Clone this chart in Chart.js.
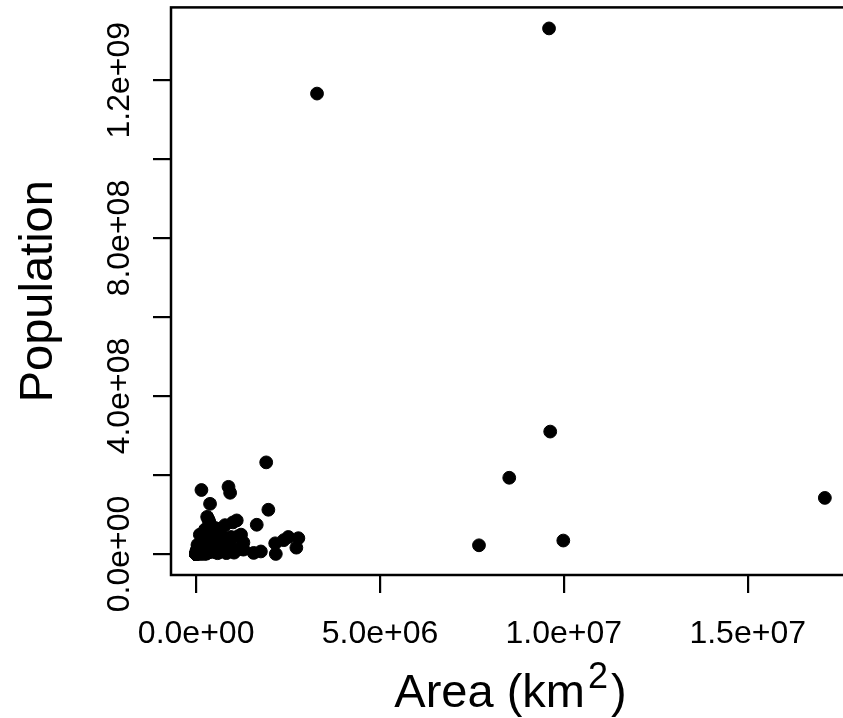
<!DOCTYPE html>
<html>
<head>
<meta charset="utf-8">
<script src="https://cdn.jsdelivr.net/npm/chart.js@4.4.1/dist/chart.umd.min.js"></script>
<style>
  html, body { margin: 0; padding: 0; background: #fff; overflow: hidden; }
  #wrap { width: 843px; height: 718px; overflow: hidden; position: relative; }
  #chart { position: absolute; left: 0; top: 0; }
</style>
</head>
<body>
<div id="wrap"><canvas id="chart" width="860" height="718"></canvas></div>
<script>
// country area (km^2) and population, one entry per country
const areaKm2 = [
  17098000, 9985000, 9629000, 9597000, 8515000, 7692000, 3287000, 2780000, 2725000, 2506000,
  2382000, 2166000, 2150000, 1964000, 1905000, 1760000, 1648000, 1564000, 1285000, 1284000,
  1267000, 1247000, 1240000, 1221000, 1139000, 1104000, 1099000, 1031000, 1001000, 947000,
  924000, 912000, 824000, 802000, 880000, 784000, 757000, 753000, 677000, 652000,
  638000, 623000, 604000, 587000, 582000, 580000, 644000, 528000, 513000, 506000,
  488000, 475000, 463000, 450000, 447000, 447000, 438000, 407000, 391000, 378000,
  357000, 342000, 338000, 331000, 330000, 324000, 322000, 313000, 310000, 301000,
  300000, 284000, 274000, 268000, 268000, 266000, 246000, 243000, 241000, 239000,
  238000, 237000, 215000, 208000, 200000, 197000, 185000, 181000, 176000, 164000,
  164000, 144000, 147000, 143000, 132000, 130000, 121000, 118000, 118000, 115000,
  112000, 111000, 111000, 110000, 109000, 103000, 100000, 93000, 92000, 89000,
  87000, 84000, 84000, 79000, 77000, 75000, 72000, 70000, 70000, 66000,
  65000, 65000, 57000, 57000, 51000, 51000, 49000, 48000, 45000, 43000,
  42000, 41000, 38000, 36000, 36000, 34000, 31000, 30000, 30000, 28000,
  29000, 28000, 28000, 28000, 26000, 26000, 23000, 23000, 21000, 22000,
  20000, 18000, 18000, 17000, 15000, 14000, 14000, 12000, 12000, 11000,
  11000, 10000, 9000, 9000, 6000, 5000, 4000, 3000, 2600, 2000,
  2200, 1000, 700, 760, 700, 750, 750, 620, 470, 460,
  460, 440, 430, 390, 340, 320, 300, 260, 180, 160,
  61, 26, 21, 2, 0.44
];

const population = [
  142e6, 34e6, 310e6, 1331e6, 193e6, 22e6, 1166e6, 40e6, 16e6, 43e6,
  35e6, 0.06e6, 27e6, 112e6, 232e6, 6.4e6, 74e6, 2.7e6, 29e6, 11e6,
  15e6, 19e6, 13e6, 49e6, 45e6, 85e6, 10e6, 3.3e6, 80e6, 43e6,
  155e6, 28e6, 2.2e6, 22e6, 170e6, 73e6, 17e6, 13e6, 50e6, 29e6,
  9.4e6, 4.5e6, 46e6, 20e6, 2e6, 40e6, 64e6, 23e6, 66e6, 46e6,
  5e6, 19e6, 6.7e6, 9.3e6, 28e6, 32e6, 29e6, 6.4e6, 12e6, 127e6,
  82e6, 4e6, 5.3e6, 88e6, 28e6, 4.8e6, 21e6, 38e6, 3e6, 60e6,
  94e6, 14e6, 16e6, 4.3e6, 1.5e6, 0.4e6, 10e6, 62e6, 33e6, 24e6,
  22e6, 6.3e6, 0.75e6, 9.6e6, 5.4e6, 13e6, 21e6, 15e6, 3.4e6, 0.5e6,
  10.5e6, 162e6, 29e6, 7.3e6, 11e6, 5.8e6, 24e6, 15e6, 5.8e6, 8.8e6,
  7.6e6, 3.7e6, 7.5e6, 11.2e6, 14e6, 0.3e6, 49e6, 10e6, 10.6e6, 6.3e6,
  8.9e6, 8.4e6, 5e6, 10.5e6, 7.3e6, 3.5e6, 5.8e6, 4.5e6, 4.6e6, 20e6,
  3.3e6, 2.2e6, 6.6e6, 4.4e6, 3.8e6, 4.6e6, 5.4e6, 10e6, 1.3e6, 5.5e6,
  16.6e6, 7.7e6, 0.7e6, 1.6e6, 23e6, 3.6e6, 10.8e6, 2.1e6, 3e6, 0.5e6,
  3.2e6, 0.7e6, 8.3e6, 9.8e6, 10e6, 2e6, 0.86e6, 0.3e6, 6.1e6, 7.4e6,
  2e6, 0.85e6, 2.8e6, 1.2e6, 1.1e6, 0.34e6, 0.63e6, 0.24e6, 1.7e6, 1.7e6,
  2.7e6, 4.2e6, 1.1e6, 4e6, 0.4e6, 1.3e6, 0.5e6, 0.18e6, 0.5e6, 1.3e6,
  0.7e6, 0.16e6, 5e6, 1.2e6, 0.1e6, 0.1e6, 0.07e6, 0.17e6, 0.08e6, 0.02e6,
  0.09e6, 0.09e6, 0.28e6, 0.1e6, 0.1e6, 0.4e6, 0.4e6, 0.05e6, 0.06e6, 0.035e6,
  0.03e6, 0.01e6, 0.01e6, 0.033e6, 0.0008e6
];

const xTicks = [0, 5e6, 1e7, 1.5e7];
const xTickLabels = ['0.0e+00', '5.0e+06', '1.0e+07', '1.5e+07'];
const yTicks = [0, 2e8, 4e8, 6e8, 8e8, 1e9, 1.2e9];
const yTickLabels = ['0.0e+00', '', '4.0e+08', '', '8.0e+08', '', '1.2e+09'];

const FONT = '"Liberation Sans", Arial, Helvetica, sans-serif';

// R style axis limits: data range widened by 4% on each side
function paddedRange(values) {
  const lo = Math.min(...values);
  const hi = Math.max(...values);
  const pad = (hi - lo) * 0.04;
  return [lo - pad, hi + pad];
}

const [xMin, xMax] = paddedRange(areaKm2);
const [yMin, yMax] = paddedRange(population);

const points = areaKm2.map((a, i) => ({ x: a, y: population[i] }));

const rAxes = {
  id: 'rAxes',
  afterDatasetsDraw(chart) {
    const { ctx, chartArea: a } = chart;
    ctx.save();
    ctx.strokeStyle = '#000';
    ctx.lineWidth = 2.5;
    ctx.strokeRect(a.left, a.top, a.right - a.left, a.bottom - a.top);
    ctx.restore();
  },
  afterDraw(chart) {
    const { ctx, chartArea: a } = chart;
    const xs = chart.scales.x;
    const ys = chart.scales.y;
    ctx.save();
    ctx.fillStyle = '#000';

    // x tick labels
    ctx.font = '32px ' + FONT;
    ctx.textAlign = 'center';
    ctx.textBaseline = 'alphabetic';
    xTicks.forEach((v, i) => {
      ctx.fillText(xTickLabels[i], xs.getPixelForValue(v), 643);
    });

    // y tick labels, rotated like R's default las = 0
    yTicks.forEach((v, i) => {
      if (!yTickLabels[i]) return;
      ctx.save();
      ctx.translate(129, ys.getPixelForValue(v));
      ctx.rotate(-Math.PI / 2);
      ctx.fillText(yTickLabels[i], 0, 0);
      ctx.restore();
    });

    // y title
    ctx.font = '47px ' + FONT;
    ctx.save();
    ctx.translate(52, (a.top + a.bottom) / 2);
    ctx.rotate(-Math.PI / 2);
    ctx.fillText('Population', 0, 0);
    ctx.restore();

    // x title: Area (km^2)
    const mainFont = '47px ' + FONT;
    const supFont = '36px ' + FONT;
    ctx.font = mainFont;
    const w1 = ctx.measureText('Area (km').width;
    const w3 = ctx.measureText(')').width;
    ctx.font = supFont;
    const w2 = ctx.measureText('2').width;
    const gap = 3;
    let x = (a.left + a.right) / 2 - (w1 + w2 + w3 + gap * 2) / 2;
    const base = 707;
    ctx.textAlign = 'left';
    ctx.font = mainFont;
    ctx.fillText('Area (km', x, base);
    x += w1 + gap;
    ctx.font = supFont;
    ctx.fillText('2', x, base - 19);
    x += w2 + gap;
    ctx.font = mainFont;
    ctx.fillText(')', x, base);

    ctx.restore();
  }
};

new Chart(document.getElementById('chart'), {
  type: 'scatter',
  data: {
    datasets: [{
      data: points,
      pointRadius: 6.4,
      pointHoverRadius: 6.4,
      backgroundColor: '#000',
      borderColor: '#000',
      borderWidth: 1
    }]
  },
  options: {
    responsive: false,
    animation: false,
    devicePixelRatio: 1,
    layout: { padding: { top: 7, right: 10, left: 0, bottom: 0 } },
    plugins: {
      legend: { display: false },
      tooltip: { enabled: false }
    },
    scales: {
      x: {
        type: 'linear',
        min: xMin,
        max: xMax,
        ticks: { display: false },
        grid: { drawOnChartArea: false, drawTicks: true, tickLength: 18, color: '#000', lineWidth: 2.2 },
        border: { display: false },
        afterBuildTicks(scale) {
          scale.ticks = xTicks.map((v) => ({ value: v }));
        },
        afterFit(scale) {
          scale.height = 143;
        }
      },
      y: {
        type: 'linear',
        min: yMin,
        max: yMax,
        ticks: { display: false },
        grid: { drawOnChartArea: false, drawTicks: true, tickLength: 18, color: '#000', lineWidth: 2.2 },
        border: { display: false },
        afterBuildTicks(scale) {
          scale.ticks = yTicks.map((v) => ({ value: v }));
        },
        afterFit(scale) {
          scale.width = 171;
        }
      }
    }
  },
  plugins: [rAxes]
});
</script>
</body>
</html>
